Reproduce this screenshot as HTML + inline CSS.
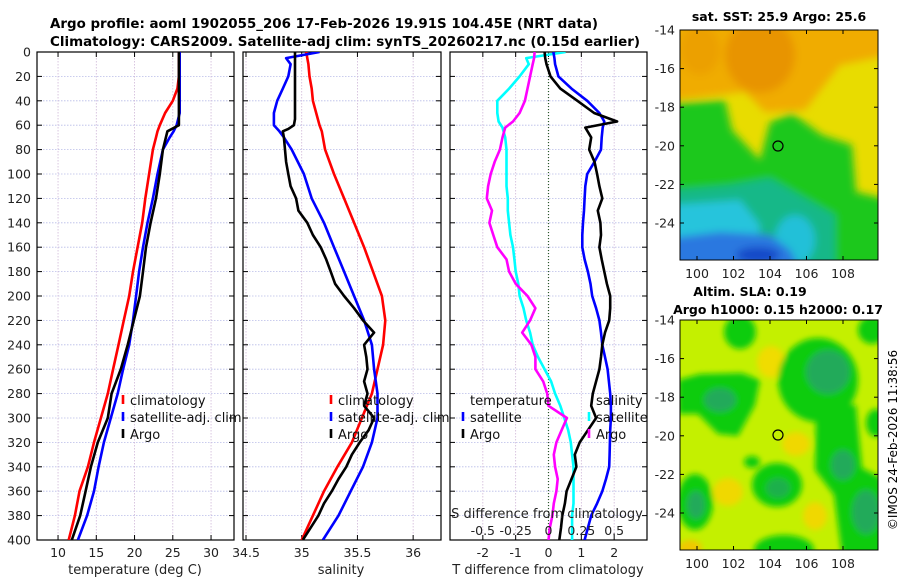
<!DOCTYPE html>
<html><head><meta charset="utf-8"><style>
html,body{margin:0;padding:0;background:#fff;}
svg{display:block;font-family:"DejaVu Sans","Liberation Sans",sans-serif;}
</style></head><body>
<svg id="fig" width="900" height="580" viewBox="0 0 900 580" xmlns="http://www.w3.org/2000/svg">
<defs>
<filter id="blur4" x="-20%" y="-20%" width="140%" height="140%"><feGaussianBlur stdDeviation="4"/></filter>
<filter id="blur3" x="-30%" y="-30%" width="160%" height="160%"><feGaussianBlur stdDeviation="3"/></filter>
<clipPath id="clipMap1"><rect x="680" y="30" width="198" height="230"/></clipPath>
<clipPath id="clipMap2"><rect x="680" y="320" width="198" height="230"/></clipPath>
<clipPath id="clipP1"><rect x="37" y="52" width="197" height="488"/></clipPath>
<clipPath id="clipP2"><rect x="243" y="52" width="198" height="488"/></clipPath>
<clipPath id="clipP3"><rect x="450" y="52" width="197" height="488"/></clipPath>
</defs>
<text x="50" y="28" font-size="13" font-weight="bold" textLength="548" lengthAdjust="spacingAndGlyphs">Argo profile: aoml 1902055_206 17-Feb-2026 19.91S 104.45E (NRT data)</text>
<text x="50" y="46" font-size="13" font-weight="bold" textLength="590" lengthAdjust="spacingAndGlyphs">Climatology: CARS2009. Satellite-adj clim: synTS_20260217.nc (0.15d earlier)</text>

<g id="map1">
<g clip-path="url(#clipMap1)">
<rect x="680" y="30" width="198" height="230" fill="#e8dc00"/>
<g filter="url(#blur4)">
<polygon points="670,20 890,20 890,55 840,65 805,110 765,112 745,92 700,97 670,100" fill="#f0ac00"/>
<ellipse cx="760" cy="55" rx="35" ry="38" fill="#e89400"/>
<ellipse cx="700" cy="50" rx="20" ry="25" fill="#eca000"/>
<polygon points="670,103 725,100 732,130 760,160 770,122 792,113 822,135 852,145 856,192 890,200 890,270 670,270" fill="#1cc81c"/>
<polygon points="670,190 730,185 770,178 800,195 835,215 835,270 670,270" fill="#14b888"/>
<polygon points="670,205 740,200 760,225 755,270 670,270" fill="#28c4dc"/>
<ellipse cx="795" cy="240" rx="20" ry="25" fill="#22c0d8"/>
<polygon points="670,238 720,232 770,235 790,250 800,270 670,270" fill="#2a78e0"/>
<ellipse cx="758" cy="255" rx="22" ry="8" fill="#1448c8"/>
</g>
</g>
<rect x="680" y="30" width="198" height="230" fill="none" stroke="#000" stroke-width="1"/>
<circle cx="778" cy="146" r="5" fill="none" stroke="#000" stroke-width="1.2"/>
<text x="779" y="21" font-size="12.5" font-weight="bold" text-anchor="middle">sat. SST: 25.9 Argo: 25.6</text>
</g>

<g id="map2">
<g clip-path="url(#clipMap2)">
<rect x="680" y="320" width="198" height="230" fill="#c4f000"/>
<g filter="url(#blur3)">
<ellipse cx="771" cy="362" rx="14" ry="16" fill="#f0dc00"/>
<ellipse cx="796" cy="444" rx="14" ry="12" fill="#f0d800"/>
<ellipse cx="728" cy="492" rx="15" ry="14" fill="#f0d800"/>
<ellipse cx="815" cy="516" rx="12" ry="14" fill="#f0d800"/>
<ellipse cx="690" cy="548" rx="12" ry="8" fill="#f0c800"/>
<ellipse cx="740" cy="332" rx="16" ry="17" fill="#10cc10"/>
<polygon points="678,380 700,374 742,373 760,380 755,405 738,436 718,434 698,414 678,414" fill="#10cc10"/>
<ellipse cx="720" cy="400" rx="16" ry="12" fill="#22aa5a"/>
<ellipse cx="818" cy="380" rx="40" ry="42" fill="#10cc10"/>
<ellipse cx="828" cy="372" rx="22" ry="22" fill="#22aa5a"/>
<polygon points="816,405 856,405 862,468 882,478 884,555 842,555 834,495 815,470" fill="#10cc10"/>
<ellipse cx="843" cy="465" rx="12" ry="15" fill="#22aa5a"/>
<ellipse cx="866" cy="512" rx="14" ry="22" fill="#22aa5a"/>
<ellipse cx="777" cy="485" rx="25" ry="22" fill="#10cc10"/>
<ellipse cx="778" cy="488" rx="12" ry="10" fill="#1cb04c"/>
<ellipse cx="695" cy="502" rx="18" ry="28" fill="#10cc10"/>
<ellipse cx="696" cy="505" rx="9" ry="14" fill="#22aa5a"/>
<ellipse cx="784" cy="550" rx="30" ry="15" fill="#10cc10"/>
<ellipse cx="872" cy="330" rx="14" ry="14" fill="#10cc10"/>
<ellipse cx="876" cy="423" rx="10" ry="14" fill="#10cc10"/>
<ellipse cx="752" cy="462" rx="8" ry="6" fill="#10cc10"/>
</g>
</g>
<rect x="680" y="320" width="198" height="230" fill="none" stroke="#000" stroke-width="1"/>
<circle cx="778" cy="435" r="5" fill="none" stroke="#000" stroke-width="1.2"/>
<text x="750" y="296" font-size="12.5" font-weight="bold" text-anchor="middle">Altim. SLA: 0.19</text>
<text x="778" y="314" font-size="12.5" font-weight="bold" text-anchor="middle">Argo h1000: 0.15 h2000: 0.17</text>
</g>
<text x="0" y="0" font-size="12" transform="translate(897,440) rotate(-90)" text-anchor="middle">©IMOS 24-Feb-2026 11:38:56</text>
</svg>
<script>
// ---- Data ----
const depthT = [0,20,30,40,50,60,65,70,80,100,120,140,160,180,200,220,240,260,280,300,320,340,360,380,400];
const climT = [25.8,25.8,25.6,25.0,24.0,23.3,23.0,22.8,22.4,21.9,21.4,21.0,20.4,19.8,19.3,18.6,17.9,17.2,16.5,15.6,14.7,13.9,12.8,12.2,11.4];
const satT = [25.9,25.9,25.9,25.9,25.9,25.5,25.1,24.6,23.7,23.0,22.4,21.7,21.1,20.6,20.2,19.8,19.3,18.5,17.8,16.9,16.0,15.3,14.7,13.8,12.6];
const argoT = [25.8,25.8,25.8,25.8,25.8,25.8,24.3,24.1,23.7,23.3,22.8,22.1,21.5,21.1,20.7,19.9,19.1,18.2,17.0,16.5,15.2,14.3,13.6,12.9,11.8];

const depthS = [0,5,10,20,30,40,50,60,65,70,80,100,120,140,160,180,200,220,240,260,280,300,320,340,360,380,400];
const climS = [35.04,35.05,35.06,35.07,35.09,35.1,35.13,35.16,35.18,35.19,35.21,35.29,35.38,35.47,35.56,35.64,35.72,35.75,35.73,35.68,35.63,35.54,35.45,35.32,35.2,35.1,35.0];
const satS = [35.16,34.86,34.9,34.88,34.83,34.78,34.75,34.75,34.8,34.84,34.91,35.02,35.09,35.2,35.29,35.38,35.47,35.56,35.63,35.65,35.68,35.68,35.63,35.55,35.44,35.33,35.19];
const depthArgoS = [0,20,40,55,60,63,65,70,80,90,100,110,120,130,140,150,160,170,180,190,200,210,220,230,240,250,260,270,280,290,300,310,320,330,340,350,360,370,380,390,400];
const argoS = [34.94,34.94,34.94,34.94,34.93,34.88,34.83,34.84,34.85,34.86,34.88,34.9,34.95,34.97,35.05,35.1,35.17,35.22,35.26,35.3,35.38,35.47,35.55,35.65,35.56,35.58,35.59,35.56,35.59,35.56,35.65,35.6,35.52,35.45,35.4,35.33,35.27,35.2,35.15,35.08,35.01];

const depthD = [0,5,10,20,30,40,50,57,62,70,80,90,100,110,120,130,140,150,160,170,180,190,200,210,220,230,240,250,260,270,280,290,300,310,320,330,340,350,360,370,380,390,400];
const argoTdiff = [-0.12,-0.1,-0.06,0.06,0.36,0.88,1.39,2.09,1.12,1.3,1.24,1.4,1.48,1.55,1.64,1.5,1.58,1.6,1.55,1.62,1.7,1.78,1.88,1.88,1.85,1.72,1.64,1.6,1.55,1.45,1.35,1.3,1.45,1.2,0.95,0.8,0.85,0.7,0.55,0.5,0.42,0.38,0.33];
const satTdiff = [0.15,0.18,0.2,0.3,0.7,1.18,1.55,1.7,1.65,1.62,1.6,1.4,1.18,1.12,1.1,1.08,1.05,1.03,1.03,1.1,1.2,1.28,1.33,1.45,1.55,1.6,1.64,1.72,1.8,1.84,1.88,1.9,1.9,1.88,1.87,1.86,1.85,1.75,1.64,1.48,1.3,1.2,1.1];
const argoSdiff = [-0.106,-0.11,-0.12,-0.14,-0.16,-0.18,-0.22,-0.27,-0.33,-0.35,-0.37,-0.41,-0.44,-0.46,-0.47,-0.43,-0.45,-0.42,-0.39,-0.32,-0.3,-0.25,-0.16,-0.1,-0.14,-0.2,-0.13,-0.1,-0.1,-0.04,-0.01,0.0,0.14,0.1,0.06,0.04,0.05,0.07,0.06,0.04,0.03,0.01,0.0];
const satSdiff = [0.13,-0.17,-0.15,-0.22,-0.3,-0.39,-0.39,-0.38,-0.35,-0.33,-0.32,-0.32,-0.32,-0.32,-0.31,-0.31,-0.3,-0.29,-0.27,-0.26,-0.25,-0.23,-0.22,-0.19,-0.17,-0.14,-0.12,-0.08,-0.03,0.02,0.05,0.09,0.12,0.15,0.17,0.18,0.19,0.19,0.19,0.19,0.18,0.18,0.18];

const depthTicks = [0,20,40,60,80,100,120,140,160,180,200,220,240,260,280,300,320,340,360,380,400];
const tempTicks = [10,15,20,25,30];
const salTicks = [34.5,35,35.5,36];
const salTickLabels = ["34.5","35","35.5","36"];
const tdiffTicks = [-2,-1,0,1,2];
const sdiffTicks = [-0.5,-0.25,0,0.25,0.5];
const sdiffTickLabels = ["-0.5","-0.25","0","0.25","0.5"];
const mapLatTicks = [-14,-16,-18,-20,-22,-24];
const mapLonTicks = [100,102,104,106,108];

// ---- helpers ----
const NS = "http://www.w3.org/2000/svg";
const fig = document.getElementById("fig");
function mk(tag, attrs, parent){
  const e = document.createElementNS(NS, tag);
  for (const k in attrs) e.setAttribute(k, attrs[k]);
  (parent||fig).appendChild(e);
  return e;
}
const Y0 = 52, Y1 = 540;
function yScale(d){ return Y0 + d/400*(Y1-Y0); }
function linScale(d0,d1,r0,r1){ return v => r0 + (v-d0)/(d1-d0)*(r1-r0); }

const panels = [
  {name:"temperature-panel", x0:37, x1:234, sx: linScale(7.25,33,37,234)},
  {name:"salinity-panel", x0:243, x1:441, sx: linScale(34.473,36.25,243,441)},
  {name:"difference-panel", x0:450, x1:647, sx: linScale(-3,3,450,647)}
];
const sDiffScale = v => panels[2].sx(v*4);

function drawFrame(p, xticks){
  const g = mk("g", {});
  
  
  depthTicks.forEach(d => {
    const l = mk("line",{x1:p.x0,x2:p.x1,y1:yScale(d),y2:yScale(d),stroke:"#b8bce8","stroke-width":0.8,"stroke-dasharray":"1.5,1.5"},g);
    
    
  });
  xticks.forEach(v => {
    const x = p.sx(v);
    const l = mk("line",{x1:x,x2:x,y1:Y0,y2:Y1,stroke:"#d0b8d8","stroke-width":0.8,"stroke-dasharray":"1.5,1.5"},g);
    
    
  });
  return g;
}
function drawAxes(p, xticks, labels, showY, g){
  mk("rect",{x:p.x0,y:Y0,width:p.x1-p.x0,height:Y1-Y0,fill:"none",stroke:"#000","stroke-width":1.2},g);
  depthTicks.forEach(d => {
    const y = yScale(d);
    mk("line",{x1:p.x0,x2:p.x0+5,y1:y,y2:y,stroke:"#000","stroke-width":1},g);
    mk("line",{x1:p.x1-5,x2:p.x1,y1:y,y2:y,stroke:"#000","stroke-width":1},g);
    if (showY){
      const t = mk("text",{x:p.x0-6,y:y+4.5,"font-size":12.5,"text-anchor":"end",fill:"#222"},g);
      t.textContent = d;
      
      
    }
  });
  xticks.forEach((v,i) => {
    const x = p.sx(v);
    mk("line",{x1:x,x2:x,y1:Y1-5,y2:Y1,stroke:"#000","stroke-width":1},g);
    mk("line",{x1:x,x2:x,y1:Y0,y2:Y0+5,stroke:"#000","stroke-width":1},g);
    const t = mk("text",{x:x,y:557,"font-size":12.5,"text-anchor":"middle",fill:"#222"},g);
    t.textContent = labels[i];
    
    
  });
}
function drawLine(xs, ds, fx, color, name, clip, w){
  const pts = xs.map((v,i)=> fx(v).toFixed(1)+","+yScale(ds[i]).toFixed(1)).join(" ");
  const pl = mk("polyline",{points:pts,fill:"none",stroke:color,"stroke-width":w||2.6,"stroke-linejoin":"round","clip-path":"url(#"+clip+")"});
  
  
}
function legendEntry(x, y, color, label, name){
  const g = mk("g",{});
  
  
  mk("line",{x1:x,x2:x,y1:y-10,y2:y-1,stroke:color,"stroke-width":2.6},g);
  const t = mk("text",{x:x+7,y:y,"font-size":13,fill:"#111"},g);
  t.textContent = label;
}
function axisLabel(x,y,txt,name){
  const t = mk("text",{x:x,y:y,"font-size":13,"text-anchor":"middle",fill:"#222"});
  t.textContent = txt;
  
  
}

// Panel 1: temperature
let p = panels[0];
let g1 = drawFrame(p, tempTicks);
drawLine(climT, depthT, p.sx, "#ff0000", "climatology-temperature-line", "clipP1");
drawLine(satT, depthT, p.sx, "#0000ff", "satellite-temperature-line", "clipP1");
drawLine(argoT, depthT, p.sx, "#000000", "argo-temperature-line", "clipP1");
drawAxes(p, tempTicks, tempTicks.map(String), true, g1);
legendEntry(123, 405, "#ff0000", "climatology", "legend-climatology-temp");
legendEntry(123, 422, "#0000ff", "satellite-adj. clim", "legend-satellite-temp");
legendEntry(123, 439, "#000000", "Argo", "legend-argo-temp");
axisLabel(135, 574, "temperature (deg C)", "x-axis-title-temperature");

// Panel 2: salinity
p = panels[1];
let g2 = drawFrame(p, salTicks);
drawLine(climS, depthS, p.sx, "#ff0000", "climatology-salinity-line", "clipP2");
drawLine(satS, depthS, p.sx, "#0000ff", "satellite-salinity-line", "clipP2");
drawLine(argoS, depthArgoS, p.sx, "#000000", "argo-salinity-line", "clipP2");
drawAxes(p, salTicks, salTickLabels, false, g2);
legendEntry(331, 405, "#ff0000", "climatology", "legend-climatology-sal");
legendEntry(331, 422, "#0000ff", "satellite-adj. clim", "legend-satellite-sal");
legendEntry(331, 439, "#000000", "Argo", "legend-argo-sal");
axisLabel(341, 574, "salinity", "x-axis-title-salinity");

// Panel 3: differences
p = panels[2];
let g3 = drawFrame(p, tdiffTicks);
const zl = mk("line",{x1:p.sx(0),x2:p.sx(0),y1:Y0,y2:Y1,stroke:"#2a5a2a","stroke-width":1.2,"stroke-dasharray":"1,2"});


drawLine(satSdiff, depthD, sDiffScale, "#00ffff", "satellite-salinity-difference-line", "clipP3");
drawLine(argoSdiff, depthD, sDiffScale, "#ff00ff", "argo-salinity-difference-line", "clipP3");
drawLine(satTdiff, depthD, p.sx, "#0000ff", "satellite-temperature-difference-line", "clipP3");
drawLine(argoTdiff, depthD, p.sx, "#000000", "argo-temperature-difference-line", "clipP3");
drawAxes(p, tdiffTicks, tdiffTicks.map(String), false, g3);
const lt = mk("text",{x:470,y:405,"font-size":13,fill:"#111"}); lt.textContent="temperature";


const ls = mk("text",{x:596,y:405,"font-size":13,fill:"#111"}); ls.textContent="salinity";


legendEntry(463, 422, "#0000ff", "satellite", "legend-satellite-tdiff");
legendEntry(463, 439, "#000000", "Argo", "legend-argo-tdiff");
legendEntry(589, 422, "#00ffff", "satellite", "legend-satellite-sdiff");
legendEntry(589, 439, "#ff00ff", "Argo", "legend-argo-sdiff");
axisLabel(547, 518, "S difference from climatology", "s-difference-axis-title");
sdiffTicks.forEach((v,i)=>{
  const t = mk("text",{x:sDiffScale(v),y:535,"font-size":12.5,"text-anchor":"middle",fill:"#222"});
  t.textContent = sdiffTickLabels[i];
  
  
});
axisLabel(548, 574, "T difference from climatology", "x-axis-title-t-difference");

// Map axes
const lonX = v => 697 + (v-100)*18.25;
[[30,260,"sst"],[320,550,"sla"]].forEach(([top,bot,nm])=>{
  mapLatTicks.forEach(v=>{
    const y = top + (-14 - v)*19.3;
    mk("line",{x1:680,x2:684,y1:y,y2:y,stroke:"#000"});
    mk("line",{x1:874,x2:878,y1:y,y2:y,stroke:"#000"});
    const t = mk("text",{x:675,y:y+4.5,"font-size":12.5,"text-anchor":"end",fill:"#222"});
    t.textContent = v;
    
    
  });
  mapLonTicks.forEach(v=>{
    const x = lonX(v);
    mk("line",{x1:x,x2:x,y1:bot-4,y2:bot,stroke:"#000"});
    mk("line",{x1:x,x2:x,y1:top,y2:top+4,stroke:"#000"});
    const t = mk("text",{x:x,y:bot+18,"font-size":12.5,"text-anchor":"middle",fill:"#222"});
    t.textContent = v;
    
    
  });
});
</script>
</body></html>
